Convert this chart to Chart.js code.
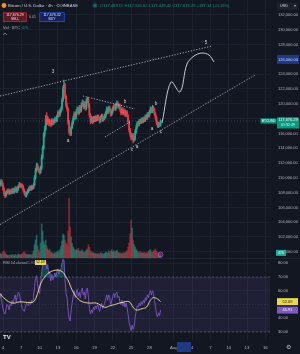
<!DOCTYPE html>
<html><head><meta charset="utf-8">
<script src="https://cdn.jsdelivr.net/npm/chart.js@4.4.1/dist/chart.umd.min.js"></script>
<style>
html,body{margin:0;padding:0;background:#131722;width:300px;height:354px;overflow:hidden}
#pc{position:absolute;left:0;top:0}
#rc{position:absolute;left:0;top:258px}
</style></head><body>
<canvas id="pc" width="300" height="258"></canvas>
<canvas id="rc" width="300" height="96"></canvas>
<script>
// ---------- DATA (prices in thousands USD, 4h candles from Jul 3 12:00) ----------
const firstOpen = 109.0;
const close = [109.2,109.5,109.1,108.5,107.9,107.6,108.0,108.1,
108.3,107.9,108.2,108.0,108.4,108.1,108.3,108.6,108.2,
108.5,108.8,109.1,108.9,109.0,
108.7,108.3,107.9,107.6,107.9,
108.2,108.4,108.7,108.5,108.8,108.6,
109.0,110.0,111.0,111.6,
111.4,111.0,110.8,
111.3,112.8,114.0,115.8,116.6,
117.9,117.5,117.9,117.3,117.6,117.2,117.8,117.4,
117.7,118.0,117.7,118.3,118.8,118.5,119.0,
119.3,120.5,122.0,
122.6,121.0,119.8,119.3,117.5,116.2,115.9,
116.8,117.4,118.0,118.6,118.2,118.9,119.3,
118.8,119.5,119.0,119.8,120.2,119.6,120.0,119.4,120.4,120.6,
119.8,118.5,117.7,118.0,117.6,118.1,
117.8,118.2,117.9,118.3,118.0,117.7,118.2,118.4,117.9,118.1,
118.3,118.8,119.3,118.9,119.5,119.2,118.6,
119.0,119.4,119.7,119.3,119.9,120.1,119.6,
119.8,119.2,118.8,119.3,118.7,119.1,118.5,118.9,
118.4,117.6,116.5,115.9,115.4,115.8,
115.1,115.3,
116.2,116.8,117.4,117.2,117.7,117.5,117.9,
117.6,118.0,117.8,118.3,118.1,118.6,118.4,118.9,119.3,119.0,
119.5,119.2,118.6,118.1,117.5,117.0,117.3,117.1,
117.68];
const high = [109.5,109.8,109.7,109.3,108.7,108.1,108.2,108.4,108.5,108.5,
108.4,108.4,108.6,108.6,108.5,108.8,108.8,108.7,109.0,109.4,
109.3,109.2,109.2,108.9,108.5,108.1,108.1,108.4,108.6,108.9,
108.9,109.0,109.0,109.2,110.3,111.3,112.0,111.9,111.6,111.2,
111.6,113.1,114.3,116.1,117.0,118.4,118.8,118.3,118.1,117.9,
117.8,118.0,118.0,117.9,118.2,118.2,118.5,119.1,119.0,119.3,
119.6,120.8,122.4,123.2,122.8,121.2,120.1,119.5,117.8,116.5,
117.0,117.7,118.3,118.9,118.8,119.2,119.6,119.5,119.8,119.7,
120.1,120.5,120.4,120.3,120.2,120.7,120.9,120.8,120.0,118.7,
118.3,118.2,118.3,118.3,118.4,118.4,118.5,118.5,118.2,118.4,
118.6,118.6,118.3,118.6,119.0,119.6,119.5,119.7,119.7,119.4,
119.2,119.6,119.9,119.9,120.1,120.4,120.3,120.0,120.0,119.4,
119.5,119.5,119.3,119.3,119.1,119.1,118.6,117.8,116.7,116.1,
116.0,116.0,115.6,116.5,117.1,117.6,117.6,117.9,117.9,118.1,
118.1,118.2,118.2,118.5,118.5,118.8,118.8,119.1,119.6,119.5,
119.8,119.7,119.4,118.8,118.3,117.7,117.5,117.5,117.84];
const low = [108.8,109.0,108.9,108.3,107.6,107.3,107.4,107.8,107.9,107.7,
107.8,107.8,107.9,107.9,107.9,108.1,108.0,108.0,108.3,108.7,
108.7,108.7,108.5,108.1,107.7,107.4,107.4,107.8,108.0,108.2,
108.3,108.3,108.4,108.5,108.9,109.8,110.8,111.1,110.7,110.5,
110.6,111.1,112.6,113.8,115.5,116.4,117.1,117.2,117.0,117.1,
116.9,117.0,117.2,117.2,117.5,117.5,117.6,118.1,118.3,118.3,
118.8,119.1,120.3,121.8,120.7,119.5,119.0,117.2,115.9,115.7,
115.7,116.6,117.2,117.8,117.9,118.0,118.7,118.5,118.6,118.8,
118.9,119.6,119.3,119.4,119.1,119.2,120.1,119.5,118.2,117.3,
117.5,117.3,117.4,117.6,117.6,117.7,117.7,117.8,117.4,117.5,
118.0,117.6,117.7,117.9,118.1,118.6,118.7,118.7,119.0,118.3,
118.4,118.8,119.2,119.1,119.1,119.7,119.4,119.4,119.0,118.5,
118.6,118.5,118.5,118.3,118.3,118.2,117.3,116.2,115.6,115.1,
115.2,114.7,114.9,115.1,116.0,116.6,117.0,117.0,117.3,117.3,
117.4,117.4,117.6,117.6,117.9,117.9,118.2,118.2,118.7,118.8,
118.8,119.0,118.4,117.8,117.2,116.8,116.8,116.9,117.0];
const volume = [8,6,7,10,12,9,6,5,4,5,
5,4,6,5,4,6,5,4,7,6,
5,6,7,9,10,8,6,5,6,5,
6,5,7,12,22,30,38,20,14,10,
25,57,45,27,22,30,20,15,12,14,
10,9,8,7,9,8,10,12,9,14,
20,28,40,38,30,25,22,45,100,52,
35,24,18,15,12,14,13,16,12,10,
12,14,10,9,11,13,15,22,18,12,
10,8,9,7,8,6,7,8,6,9,
7,8,6,8,10,9,8,12,9,11,
14,10,12,9,11,13,10,8,9,7,
8,7,9,8,10,12,18,25,40,63,
50,30,22,18,14,12,10,9,11,8,
9,8,10,7,9,8,11,12,14,10,
9,12,13,15,11,9,8,7,6];
const rsi = [58,55,51,47,44,43,47,50,49,46,
50,49,53,51,54,57,52,56,59,58,
54,50,47,46,45,48,51,50,49,52,
50,53,51,55,63,69,71,65,60,58,
66,74,78,81,80,82,76,79,72,74,
67,72,68,70,73,70,74,76,72,75,
76,80,83,82,68,58,55,46,40,38,
46,51,56,60,55,58,61,56,59,55,
60,62,57,59,54,61,62,56,47,43,
46,44,48,46,49,47,50,48,45,49,
51,47,49,51,54,57,53,57,55,50,
53,56,58,55,58,59,55,56,52,50,
53,49,52,48,51,48,43,37,34,31,
35,32,34,41,45,49,48,51,49,52,
50,53,51,55,53,57,55,58,60,57,
60,58,53,48,43,41,44,42,45.91];
const rsiMaIdx = [0,5,12,20,27,33,37,40,44,48,55,61,65,68,72,77,81,88,95,103,108,113,120,127,131,134,140,144,148,151,155,158];
const rsiMaVal = [58,54,51,52,51.5,52,58,65,70,73,75,74,70,66,59,54,52,51,51,48,49,50,51.5,52,48,46,47,48,53,55,54,52.09];

// drawings (time in days since Jul 1, price in thousands)
const upperT = [2.51, 37.26], upperP = [121.05, 127.81];
const lowerT = [2.51, 44.31], lowerP = [103.68, 123.89];
const triTopT = [16.11, 24.64], triTopP = [121.05, 119.30];
const triBotT = [19.72, 23.82], triBotP = [115.51, 117.54];
const projT = [29.07,30.54,32.02,33.16,34.31,35.62,36.77,37.59];
const projP = [117.41,122.95,121.60,125.38,126.46,126.86,126.59,125.65];
const waveText = ['3','5','a','b','c','a','a','b','c'];
const waveT = [11.20,36.28,13.66,23.00,24.15,24.97,27.43,28.08,28.90];
const waveP = [124.30,128.22,114.97,120.24,113.76,114.16,116.60,119.97,116.19];

const priceTicks = [100,102,104,106,108,110,112,114,116,118,120,122,124,126,128,130,132];
const rsiTicks = [30,40,60,70,80];
const dayTickT = [3,6,9,12,15,18,21,24,27,31,34,37,40,43,46];
const dayTickLabel = ['4','7','10','13','16','19','22','25','28','Aug','4','7','10','13','16'];
const lastPrice = 117.67629;
const lastRsi = 45.91, lastRsiMa = 52.09;

// ---------- RENDER ----------
Chart.defaults.font.family = '"Liberation Sans", Arial, sans-serif';
const GRID = '#1c2130', TXT = '#b2b5be';
const UP = '#22ab94', DN = '#f23645';
const X_MIN = 2.508, X_MAX = 46.77;
const tOf = i => 2.5 + i / 6;
const opens = close.map((c, i) => i ? close[i - 1] : firstOpen);
const isUp = close.map((c, i) => c >= opens[i]);
const pts = (ts, ps) => ts.map((t, i) => ({x: t, y: ps[i]}));
const zeroPad = s => { s.paddingTop = 0; s.paddingBottom = 0; s.paddingLeft = 0; s.paddingRight = 0; };
const fmtPrice = v => (v * 1000).toLocaleString('en-US', {minimumFractionDigits: 2, maximumFractionDigits: 2});

function box(ctx, x, y, w, h, fill, stroke) {
  ctx.fillStyle = fill; ctx.fillRect(x, y, w, h);
  if (stroke) { ctx.strokeStyle = stroke; ctx.lineWidth = 0.6; ctx.strokeRect(x + 0.3, y + 0.3, w - 0.6, h - 0.6); }
}
function txt(ctx, s, x, y, color, size, align, bold) {
  ctx.font = (bold ? 'bold ' : '') + size + 'px "Liberation Sans", Arial, sans-serif';
  ctx.fillStyle = color; ctx.textAlign = align || 'left'; ctx.textBaseline = 'middle';
  ctx.fillText(s, x, y);
}

const lineDs = (ts, ps, extra) => Object.assign({type: 'line', yAxisID: 'y', data: pts(ts, ps), borderColor: 'rgba(214,216,224,0.85)', borderWidth: 0.9, borderDash: [1.2, 1.6], pointRadius: 0, fill: false, order: 1}, extra || {});

const priceOverlay = {
  id: 'priceOverlay',
  afterDraw(chart) {
    const {ctx, scales: {x, y, yv}} = chart;
    ctx.save();
    waveText.forEach((s, i) => txt(ctx, s, x.getPixelForValue(waveT[i]), y.getPixelForValue(waveP[i]), '#d1d4dc', 4.6, 'center'));
    // header
    ctx.fillStyle = '#f7931a'; ctx.beginPath(); ctx.arc(4, 5.5, 2.4, 0, Math.PI * 2); ctx.fill();
    txt(ctx, 'Bitcoin / U.S. Dollar · 4h · COINBASE', 8, 5.5, '#d1d4dc', 4.2);
    ctx.strokeStyle = '#089981'; ctx.lineWidth = 0.6; ctx.beginPath(); ctx.arc(95, 5.5, 1.8, 0, Math.PI * 2); ctx.stroke();
    ctx.fillStyle = '#089981'; ctx.beginPath(); ctx.arc(95, 5.5, 0.9, 0, Math.PI * 2); ctx.fill();
    txt(ctx, 'O117,489.15 H117,841.62 L117,449.42 C117,676.29 +187.14 (+0.16%)', 100, 5.5, '#1f8f7c', 4.1);
    box(ctx, 3, 12.5, 24, 9.5, '#5a1c24', '#d2303e');
    txt(ctx, '117,676.29', 15, 15.3, '#ffdcdc', 3.6, 'center');
    txt(ctx, 'SELL', 15, 19.4, '#ffdcdc', 3.3, 'center');
    txt(ctx, '0.01', 32.5, 17.3, TXT, 3.5, 'center');
    box(ctx, 39.5, 12.5, 25, 9.5, '#14215a', '#2962ff');
    txt(ctx, '117,676.32', 52, 15.3, '#dbe4ff', 3.6, 'center');
    txt(ctx, 'BUY', 52, 19.4, '#dbe4ff', 3.3, 'center');
    txt(ctx, 'Vol · BTC', 3, 28, TXT, 4);
    txt(ctx, '476', 22, 28, '#1f8f7c', 3.6);
    ctx.strokeStyle = TXT; ctx.lineWidth = 0.6; ctx.beginPath(); ctx.moveTo(3, 35); ctx.lineTo(5, 33); ctx.lineTo(7, 35); ctx.stroke();
    box(ctx, 277, 2.5, 21, 7, '#1e222d');
    txt(ctx, 'USD', 280, 6, '#d1d4dc', 3.8);
    txt(ctx, '▾', 295, 6, TXT, 3.8, 'center');
    // axis badges
    const yc = y.getPixelForValue(126);
    box(ctx, 277, yc - 4.5, 22, 9, '#1f3a85');
    txt(ctx, '126,000.00', 288, yc, '#c9d6ff', 4, 'center');
    const yp = y.getPixelForValue(lastPrice);
    box(ctx, 260.5, yp - 2.6, 16, 5.2, '#089981');
    txt(ctx, 'BTCUSD', 268.5, yp, '#ffffff', 3.3, 'center');
    box(ctx, 277, yp - 3.5, 22, 11, '#089981');
    txt(ctx, '117,676.29', 288, yp - 0.8, '#ffffff', 3.9, 'center');
    txt(ctx, '01:32:49', 288, yp + 4, '#e0f5f1', 3.6, 'center');
    const yvv = yv.getPixelForValue(volume[volume.length - 1]) - 1.5;
    box(ctx, 276, yvv - 3, 10, 6, '#22ab94');
    txt(ctx, '476', 281, yvv, '#ffffff', 3.3, 'center');
    const xl = x.getPixelForValue(tOf(close.length - 1));
    ctx.strokeStyle = '#c04ee0'; ctx.lineWidth = 0.8; ctx.beginPath(); ctx.arc(xl, 254.5, 2.4, 0, Math.PI * 2); ctx.stroke();
    ctx.fillStyle = '#7b2f93'; ctx.beginPath(); ctx.arc(xl, 254.5, 1.3, 0, Math.PI * 2); ctx.fill();
    ctx.restore();
  }
};

new Chart(document.getElementById('pc'), {
  type: 'bar',
  data: {datasets: [
    {yAxisID: 'yv', data: volume.map((v, i) => ({x: tOf(i), y: v})),
     backgroundColor: isUp.map(u => u ? 'rgba(34,171,148,0.5)' : 'rgba(242,54,69,0.5)'), barThickness: 1, grouped: false, order: 5},
    {yAxisID: 'y', data: high.map((h, i) => ({x: tOf(i), y: [low[i], h]})),
     backgroundColor: isUp.map(u => u ? UP : DN), barThickness: 0.6, grouped: false, order: 4},
    {yAxisID: 'y', data: close.map((c, i) => ({x: tOf(i), y: [opens[i], c]})),
     backgroundColor: isUp.map(u => u ? UP : DN), barThickness: 1.1, minBarLength: 0.6, grouped: false, order: 3},
    lineDs([X_MIN, X_MAX], [lastPrice, lastPrice], {borderColor: 'rgba(178,181,190,0.35)', borderWidth: 0.7, borderDash: [1, 2], order: 2}),
    lineDs(upperT, upperP),
    lineDs(lowerT, lowerP),
    lineDs(triTopT, triTopP),
    lineDs(triBotT, triBotP),
    lineDs(projT, projP, {borderColor: '#d9dbe3', borderDash: [], borderWidth: 0.9, tension: 0.35})
  ]},
  options: {
    responsive: false, animation: false, events: [],
    layout: {padding: 0},
    plugins: {legend: {display: false}, tooltip: {enabled: false}},
    scales: {
      x: {type: 'linear', min: X_MIN, max: X_MAX, offset: false,
          afterBuildTicks: s => { s.ticks = dayTickT.map(v => ({value: v})); },
          afterFit: s => { s.height = 0; zeroPad(s); },
          ticks: {display: false}, grid: {color: GRID, drawTicks: false, offset: false}, border: {display: false}},
      y: {position: 'right', min: 99.162, max: 134.027,
          afterBuildTicks: s => { s.ticks = priceTicks.map(v => ({value: v})); },
          afterFit: s => { s.width = 30; zeroPad(s); },
          ticks: {color: TXT, font: {size: 4}, padding: 8, callback: v => fmtPrice(v)},
          grid: {color: GRID, drawTicks: false}, border: {display: false}},
      yv: {display: false, min: 0, max: 430}
    }
  },
  plugins: [priceOverlay]
});

const rsiOverlay = {
  id: 'rsiOverlay',
  afterDraw(chart) {
    const {ctx, scales: {x, y}} = chart;
    ctx.save();
    ctx.fillStyle = '#262a36'; ctx.fillRect(0, 0, 300, 0.8);
    txt(ctx, 'RSI 14 close', 3, 4.5, TXT, 4);
    txt(ctx, lastRsi.toFixed(2), 25.5, 4.5, '#9575cd', 3.8);
    box(ctx, 35, 2, 11, 5, '#e9d849');
    txt(ctx, lastRsiMa.toFixed(2), 40.5, 4.5, '#131722', 3.5, 'center');
    const ym = y.getPixelForValue(lastRsiMa);
    box(ctx, 277, ym - 3.5, 21, 7, '#e9d849');
    txt(ctx, lastRsiMa.toFixed(2), 287.5, ym, '#131722', 4, 'center');
    const yr = y.getPixelForValue(lastRsi);
    box(ctx, 277, yr - 3.5, 21, 7, '#7e57c2');
    txt(ctx, lastRsi.toFixed(2), 287.5, yr, '#ffffff', 4, 'center');
    box(ctx, 177, 84, 14, 10, '#1f3a85');
    txt(ctx, 'TV', 3, 79, '#e8e8ec', 6, 'left', true);
    txt(ctx, '⚙', 288, 89, TXT, 6, 'center');
    ctx.restore();
  }
};

new Chart(document.getElementById('rc'), {
  type: 'line',
  data: {datasets: [
    {data: pts([X_MIN, X_MAX], [70, 70]), borderColor: 'rgba(120,123,134,0.7)', borderDash: [2, 2], borderWidth: 0.7, pointRadius: 0, fill: '+1', backgroundColor: 'rgba(126,87,194,0.12)', order: 5},
    {data: pts([X_MIN, X_MAX], [30, 30]), borderColor: 'rgba(120,123,134,0.7)', borderDash: [2, 2], borderWidth: 0.7, pointRadius: 0, fill: false, order: 5},
    {data: pts([X_MIN, X_MAX], [50, 50]), borderColor: 'rgba(120,123,134,0.4)', borderDash: [1, 2], borderWidth: 0.6, pointRadius: 0, fill: false, order: 5},
    {data: rsi.map((v, i) => ({x: tOf(i), y: v})), borderColor: '#7e57c2', borderWidth: 0.9, pointRadius: 0,
     fill: {target: {value: 70}, above: 'rgba(8,153,129,0.4)', below: 'rgba(0,0,0,0)'}, order: 1},
    {data: rsiMaIdx.map((k, j) => ({x: tOf(k), y: rsiMaVal[j]})), borderColor: '#f1e3a1', borderWidth: 0.9, pointRadius: 0, tension: 0.4, fill: false, order: 0}
  ]},
  options: {
    responsive: false, animation: false, events: [],
    layout: {padding: 0},
    plugins: {legend: {display: false}, tooltip: {enabled: false}},
    scales: {
      x: {type: 'linear', min: X_MIN, max: X_MAX, offset: false,
          afterBuildTicks: s => { s.ticks = dayTickT.map(v => ({value: v})); },
          afterFit: s => { s.height = 14; zeroPad(s); },
          ticks: {color: TXT, font: {size: 4.3}, padding: 5, autoSkip: false, maxRotation: 0, callback: (v, i) => dayTickLabel[i]},
          grid: {color: GRID, drawTicks: false}, border: {display: false}},
      y: {position: 'right', min: 24.18, max: 83.82,
          afterBuildTicks: s => { s.ticks = rsiTicks.map(v => ({value: v})); },
          afterFit: s => { s.width = 30; zeroPad(s); },
          ticks: {color: TXT, font: {size: 4}, padding: 8, callback: v => v.toFixed(2)},
          grid: {color: GRID, drawTicks: false}, border: {display: false}}
    }
  },
  plugins: [rsiOverlay]
});
</script>
</body></html>
